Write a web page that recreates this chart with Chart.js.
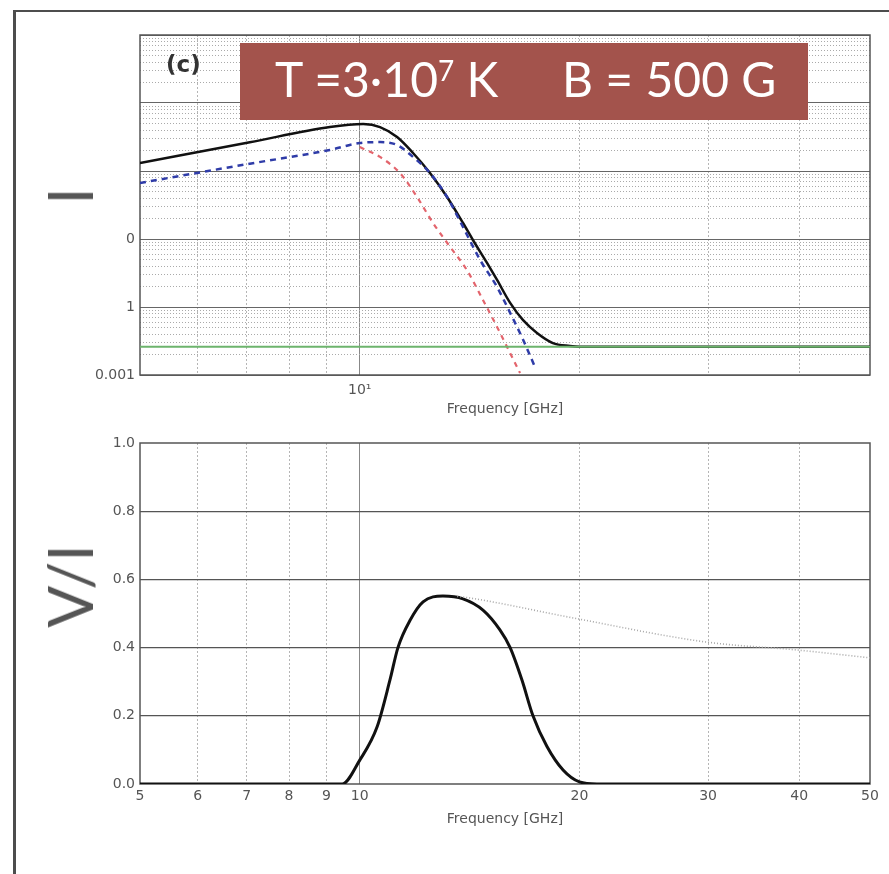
<!DOCTYPE html>
<html>
<head>
<meta charset="utf-8">
<script src="https://cdn.jsdelivr.net/npm/chart.js@4.4.0/dist/chart.umd.min.js"></script>
<style>
  body { margin: 0; width: 889px; height: 874px; overflow: hidden; background: #fff; position: relative; }
  #frame { position: absolute; left: 13px; top: 10px; width: 900px; height: 900px;
           border-left: 3px solid #4d4d4d; border-top: 2px solid #4d4d4d; }
  canvas { position: absolute; left: 0; }
  #topCanvas { top: 0; }
  #bottomCanvas { top: 425px; }
  .big-label { position: absolute; font-family: Lato, sans-serif; font-size: 62px; line-height: 1;
               color: #555; white-space: nowrap; transform: translate(-50%, -50%) rotate(-90deg); }
  #tag { position: absolute; left: 166px; top: 53px; font-family: "DejaVu Sans", sans-serif;
         font-weight: bold; font-size: 23px; line-height: 1; color: #333; }
  #banner { position: absolute; left: 240px; top: 43px; width: 568px; height: 77px; background: #a3534c;
            color: #fff; font-family: Lato, sans-serif; font-size: 48px; line-height: 1; }
  #banner span.part { position: absolute; top: 12px; white-space: nowrap; }
  #banner .sup { font-size: 28px; vertical-align: 16px; line-height: 0; }
</style>
</head>
<body>
<div id="frame"></div>
<canvas id="topCanvas" width="889" height="425"></canvas>
<canvas id="bottomCanvas" width="889" height="449"></canvas>
<div class="big-label" style="left:69px; top:196px;">I</div>
<div class="big-label" style="left:69px; top:586px;">V/I</div>
<div id="tag">(c)</div>
<div id="banner">
  <span class="part" style="left:35px;">T =3·10<span class="sup">7</span> K</span>
  <span class="part" style="left:322px;">B = 500 G</span>
</div>
<script>
// top panel: intensity vs frequency (log-log)
const blackFreq = [5, 7.07, 9.1, 10.11, 10.66, 11.25, 11.83, 12.48, 13.17, 13.85, 14.29, 14.94, 15.42, 16.07, 16.74, 17.49, 18.39, 19.41, 20, 30, 50];
const blackI = [1.31, 2.65, 4.43, 4.9, 4.43, 3.16, 1.84, 0.935, 0.415, 0.172, 0.0967, 0.0444, 0.025, 0.0115, 0.0064, 0.00415, 0.00295, 0.00267, 0.0026, 0.0026, 0.0026];
const blueFreq = [5, 7.07, 9.1, 10, 10.66, 11.25, 11.83, 12.48, 13.17, 13.85, 14.62, 15.42, 16.07, 16.74, 17.38];
const blueI = [0.667, 1.28, 2.04, 2.58, 2.66, 2.41, 1.61, 0.935, 0.415, 0.15, 0.049, 0.0197, 0.0082, 0.0033, 0.00131];
const redFreq = [10, 10.66, 11.35, 11.98, 12.6, 13.3, 14.02, 14.75, 15.42, 16.07, 16.58];
const redI = [2.25, 1.61, 0.935, 0.415, 0.172, 0.0763, 0.035, 0.0127, 0.0051, 0.0021, 0.00107];
const greenFreq = [5, 50];
const greenI = [0.0026, 0.0026];

// bottom panel: V/I vs frequency
const ratioFreq = [5, 9.46, 10.0, 10.56, 11.0, 11.28, 11.72, 12.21, 13.0, 13.85, 14.75, 15.56, 16.07, 16.68, 17.27, 18.05, 18.99, 20, 21.13, 30, 50];
const ratioVI = [0, 0, 0.07, 0.167, 0.305, 0.4, 0.48, 0.534, 0.551, 0.543, 0.51, 0.452, 0.4, 0.305, 0.2, 0.11, 0.041, 0.006, 0, 0, 0];
const dottedFreq = [13.6, 14.2, 19.6, 29.9, 39.7, 50];
const dottedVI = [0.55, 0.545, 0.487, 0.416, 0.393, 0.37];

// ticks
const freqTicks = [5, 6, 7, 8, 9, 10, 20, 30, 40, 50];
const topXLabels = ['', '', '', '', '', '10\u00b9', '', '', '', ''];
const bottomXLabels = ['5', '6', '7', '8', '9', '10', '20', '30', '40', '50'];
const topYDecades = [0.001, 0.01, 0.1, 1, 10, 100];
const topYLabelValues = [0.001, 0.01, 0.1];
const topYLabelTexts = ['0.001', '1', '0'];
const bottomYTicks = [0, 0.2, 0.4, 0.6, 0.8, 1.0];
const bottomYLabels = ['0.0', '0.2', '0.4', '0.6', '0.8', '1.0'];

const pts = (xs, ys) => xs.map((x, i) => ({ x, y: ys[i] }));
const tickFont = { family: 'DejaVu Sans', size: 14 };

// minor log ticks 1..9 inside every decade
const topYTicks = [];
topYDecades.slice(0, -1).forEach(d => { for (let m = 1; m < 10; m++) topYTicks.push(+(d * m).toPrecision(3)); });
topYTicks.push(100);

const isDecade = v => topYDecades.some(d => Math.abs(d - v) / d < 1e-6);

const frameBox = {
  id: 'frameBox',
  beforeDatasetsDraw(chart) {
    const { ctx, chartArea: a } = chart;
    ctx.save();
    ctx.strokeStyle = '#555';
    ctx.lineWidth = 1.5;
    ctx.strokeRect(a.left, a.top, a.right - a.left, a.bottom - a.top);
    ctx.restore();
  }
};

function freqGridColor(c) {
  const v = c.tick && c.tick.value;
  if (v === 5 || v === 50) return 'rgba(0,0,0,0)';
  if (v === 10) return '#888';
  return '#b5b5b5';
}
const freqGridDash = c => (c.tick && c.tick.value === 10 ? [] : [2, 2]);

new Chart(document.getElementById('topCanvas'), {
  type: 'line',
  data: {
    datasets: [
      { data: pts(greenFreq, greenI), borderColor: '#6db46d', borderWidth: 2 },
      { data: pts(redFreq, redI), borderColor: '#e3646c', borderWidth: 2.2, borderDash: [5, 5], cubicInterpolationMode: 'monotone' },
      { data: pts(blueFreq, blueI), borderColor: '#2f3ca8', borderWidth: 2.5, borderDash: [6, 5], cubicInterpolationMode: 'monotone' },
      { data: pts(blackFreq, blackI), borderColor: '#111', borderWidth: 2.5, cubicInterpolationMode: 'monotone' }
    ]
  },
  options: {
    responsive: false,
    animation: false,
    layout: { padding: { left: 0, top: 35, right: 19, bottom: 0 } },
    plugins: { legend: { display: false }, tooltip: { enabled: false } },
    elements: { point: { radius: 0 } },
    scales: {
      x: {
        type: 'logarithmic', min: 5, max: 50,
        afterBuildTicks: s => { s.ticks = freqTicks.map(v => ({ value: v })); },
        afterFit: s => { s.height = 50; },
        ticks: { autoSkip: false, maxRotation: 0, minRotation: 0, padding: 7, color: '#555', font: tickFont,
                 callback: (v, i) => topXLabels[i] },
        grid: { drawTicks: false, color: freqGridColor, lineWidth: 1 },
        border: { display: false, dash: freqGridDash },
        title: { display: true, text: 'Frequency [GHz]', color: '#555', font: tickFont, padding: { top: 0, bottom: 7 } }
      },
      y: {
        type: 'logarithmic', min: 0.001, max: 100,
        afterBuildTicks: s => { s.ticks = topYTicks.map(v => ({ value: v })); },
        afterFit: s => { s.width = 140; },
        ticks: { autoSkip: false, padding: 5, color: '#555', font: tickFont,
                 callback: v => {
                   const k = topYLabelValues.findIndex(t => Math.abs(t - v) / t < 1e-6);
                   return k >= 0 ? topYLabelTexts[k] : '';
                 } },
        grid: { drawTicks: false, color: c => (isDecade(c.tick.value) ? '#666' : '#aaa'), lineWidth: 1 },
        border: { display: false, dash: c => (c.tick && isDecade(c.tick.value) ? [] : [1, 2]) }
      }
    }
  },
  plugins: [frameBox]
});

new Chart(document.getElementById('bottomCanvas'), {
  type: 'line',
  data: {
    datasets: [
      { data: pts(dottedFreq, dottedVI), borderColor: '#a8a8a8', borderWidth: 1.6, borderDash: [1, 2], cubicInterpolationMode: 'monotone' },
      { data: pts(ratioFreq, ratioVI), borderColor: '#111', borderWidth: 3, cubicInterpolationMode: 'monotone' }
    ]
  },
  options: {
    responsive: false,
    animation: false,
    layout: { padding: { left: 0, top: 18, right: 19, bottom: 0 } },
    plugins: { legend: { display: false }, tooltip: { enabled: false } },
    elements: { point: { radius: 0 } },
    scales: {
      x: {
        type: 'logarithmic', min: 5, max: 50,
        afterBuildTicks: s => { s.ticks = freqTicks.map(v => ({ value: v })); },
        afterFit: s => { s.height = 90; },
        ticks: { autoSkip: false, maxRotation: 0, minRotation: 0, padding: 4, color: '#555', font: tickFont,
                 callback: (v, i) => bottomXLabels[i] },
        grid: { drawTicks: false, color: freqGridColor, lineWidth: 1 },
        border: { display: false, dash: freqGridDash },
        title: { display: true, text: 'Frequency [GHz]', color: '#555', font: tickFont, padding: { top: 0, bottom: 46 } }
      },
      y: {
        type: 'linear', min: 0, max: 1,
        afterBuildTicks: s => { s.ticks = bottomYTicks.map(v => ({ value: v })); },
        afterFit: s => { s.width = 140; },
        ticks: { autoSkip: false, padding: 5, color: '#555', font: tickFont,
                 callback: (v, i) => bottomYLabels[i] },
        grid: { drawTicks: false, lineWidth: 1.2,
                color: c => (c.tick.value === 0 || c.tick.value === 1 ? 'rgba(0,0,0,0)' : '#555') },
        border: { display: false }
      }
    }
  },
  plugins: [frameBox]
});
</script>
</body>
</html>
